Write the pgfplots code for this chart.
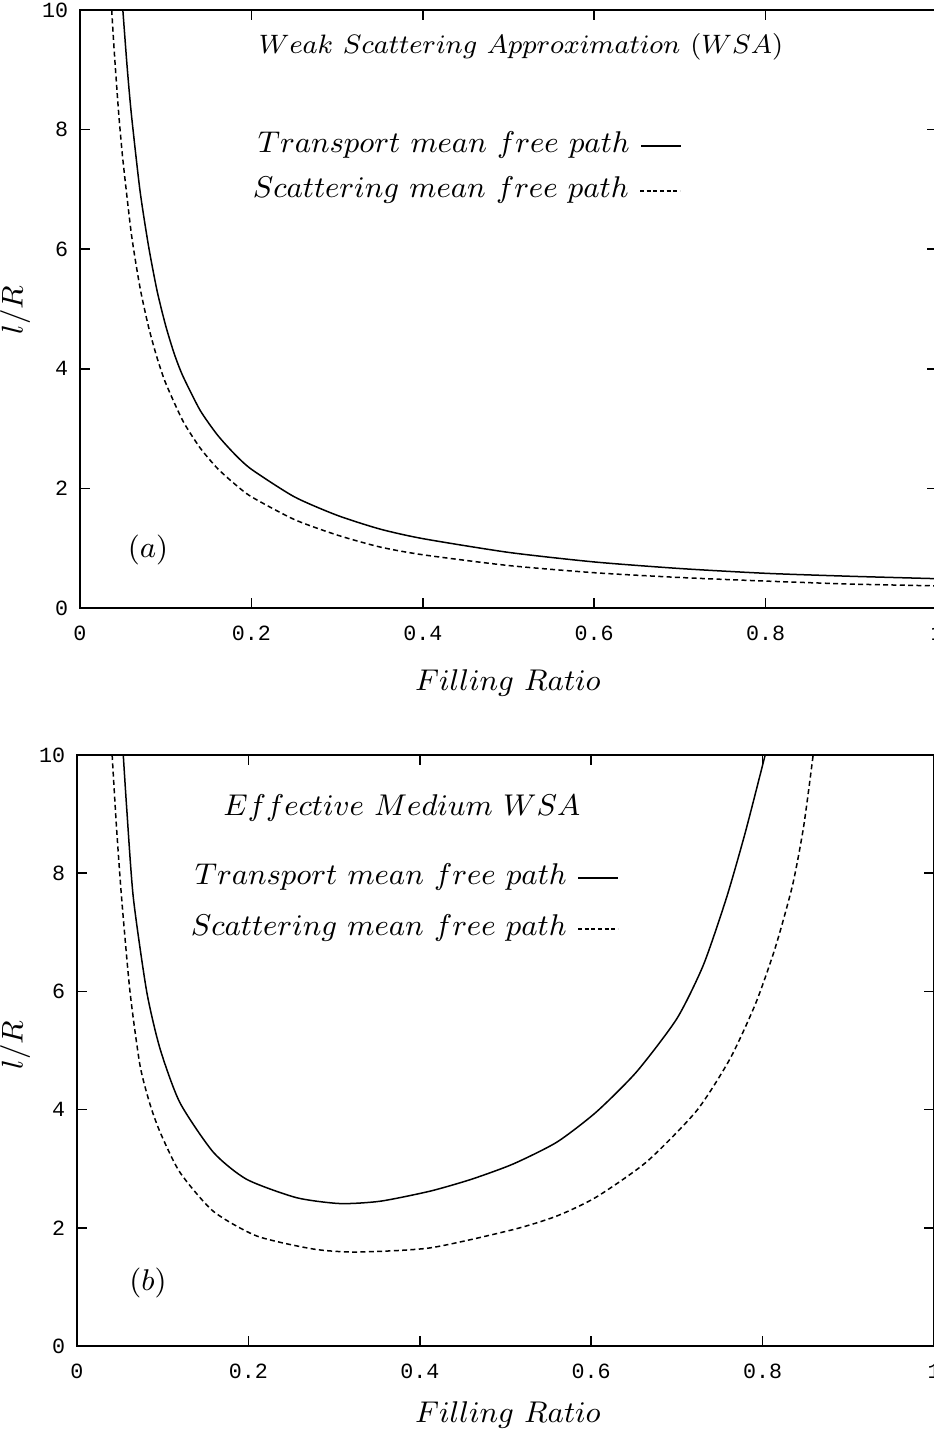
\documentclass[border=0pt]{standalone}
\usepackage{fontspec}
\setmonofont{Liberation Mono}
\usepackage{pgfplots}
\pgfplotsset{compat=1.18}

\pgfplotsset{
  myax/.style={
    scale only axis, width=257.1pt,
    xmin=0, xmax=1, ymin=0, ymax=10,
    xtick={0,0.2,0.4,0.6,0.8,1}, xticklabels={0,0.2,0.4,0.6,0.8,1},
    ytick={0,2,4,6,8,10}, yticklabels={0,2,4,6,8,10},
    tick align=inside, major tick length=3pt,
    xtick pos=both, ytick pos=both,
    tick style={black, line width=0.5pt},
    axis line style={line width=0.6pt},
    tick label style={font=\ttfamily\fontsize{6.5}{7}\selectfont},
    xticklabel style={yshift=-2pt},
    clip=true,
  },
  tr/.style={black, line width=0.45pt, smooth, tension=0.4},
  sc/.style={black, line width=0.45pt, dash pattern=on 1.5pt off 1pt, smooth, tension=0.4},
}
\newcommand{\lab}{\fontsize{9}{11}\selectfont}
\newcommand{\solidsample}{\tikz[baseline=-0.5ex]\draw[line width=0.45pt] (0,0)--(12pt,0);}
\newcommand{\dashsample}{\tikz[baseline=-0.5ex]\draw[line width=0.45pt, dash pattern=on 1.2pt off 0.8pt] (0,0)--(12pt,0);}

\begin{document}
\begin{tikzpicture}[x=1pt,y=1pt]
% ---------- panel (a) ----------
\begin{axis}[myax, height=179.4pt, at={(24pt,246.6pt)}, anchor=south west]
\addplot[tr] coordinates {
(0.050,10.0) (0.055,9.05) (0.060,8.25) (0.070,6.98) (0.080,6.05) (0.090,5.30)
(0.100,4.72) (0.110,4.25) (0.120,3.88) (0.140,3.31) (0.160,2.90) (0.180,2.58)
(0.200,2.32) (0.250,1.86) (0.300,1.55) (0.350,1.32) (0.400,1.16) (0.500,0.93)
(0.600,0.77) (0.700,0.66) (0.800,0.58) (0.900,0.53) (1.000,0.49)};
\addplot[sc] coordinates {
(0.037,10.0) (0.040,9.30) (0.045,8.30) (0.050,7.50) (0.060,6.25) (0.070,5.36)
(0.080,4.70) (0.090,4.18) (0.100,3.76) (0.120,3.13) (0.140,2.68) (0.160,2.34)
(0.180,2.08) (0.200,1.86) (0.250,1.48) (0.300,1.22) (0.350,1.02) (0.400,0.89)
(0.500,0.71) (0.600,0.59) (0.700,0.51) (0.800,0.45) (0.900,0.40) (1.000,0.37)};
\end{axis}
% ---------- panel (b) ----------
\begin{axis}[myax, height=177.3pt, at={(23.1pt,25.2pt)}, anchor=south west]
\addplot[tr] coordinates {
(0.054,10.0) (0.058,9.10) (0.0657,7.59) (0.0813,6.00) (0.0969,5.03) (0.120,4.12)
(0.159,3.28) (0.198,2.82) (0.256,2.51) (0.307,2.41) (0.354,2.45) (0.412,2.62)
(0.460,2.82) (0.509,3.08) (0.560,3.45) (0.606,3.96) (0.653,4.64) (0.700,5.54)
(0.731,6.45) (0.758,7.59) (0.780,8.70) (0.803,10.0)};
\addplot[sc] coordinates {
(0.041,10.0) (0.046,8.80) (0.052,7.59) (0.0618,6.00) (0.0735,4.75) (0.085,4.10)
(0.0969,3.62) (0.120,2.94) (0.159,2.28) (0.210,1.86) (0.276,1.64) (0.326,1.59)
(0.412,1.66) (0.509,1.97) (0.560,2.20) (0.606,2.52) (0.665,3.12) (0.723,3.98)
(0.762,4.86) (0.792,5.80) (0.815,6.75) (0.835,7.80) (0.848,8.80) (0.859,10.0)};
\end{axis}
% ---------- texts ----------
\node[font=\fontsize{8.5}{10}\selectfont] at (156.3,414.9) {$Weak\ Scattering\ Approximation\ (WSA)$};
\node[font=\lab, anchor=west] at (73.8,385.5) {$Transport\ mean\ free\ path$ \solidsample};
\node[font=\lab, anchor=west] at (72.3,372.0) {$Scattering\ mean\ free\ path$ \dashsample};
\node[font=\lab] at (44.4,264.0) {$(a)$};
\node[font=\lab] at (152.4,224.1) {$Filling\ Ratio$};
\node[font=\lab, rotate=90] at (4.5,336.0) {$l/R$};

\node[font=\lab] at (120.6,186.6) {$Effective\ Medium\ WSA$};
\node[font=\lab, anchor=west] at (54.9,165.9) {$Transport\ mean\ free\ path$ \solidsample};
\node[font=\lab, anchor=west] at (53.7,150.6) {$Scattering\ mean\ free\ path$ \dashsample};
\node[font=\lab] at (44.4,44.1) {$(b)$};
\node[font=\lab] at (152.4,4.5) {$Filling\ Ratio$};
\node[font=\lab, rotate=90] at (4.5,115.5) {$l/R$};

\pgfresetboundingbox
\path[use as bounding box] (0,0) rectangle (280.2,429);
\end{tikzpicture}
\end{document}
